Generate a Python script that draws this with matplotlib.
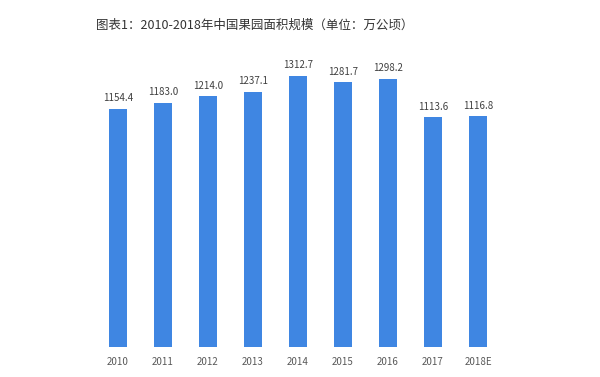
import numpy as np
import matplotlib
matplotlib.use("Agg")
import matplotlib.pyplot as plt

plt.rcParams['font.family'] = ['Noto Sans CJK SC', 'DejaVu Sans']

# ── Dados ────────────────────────────────────────────────────────────────
years = ["2010", "2011", "2012", "2013", "2014", "2015", "2016", "2017", "2018E"]
area = [1154.4, 1183.0, 1214.0, 1237.1, 1312.7, 1281.7, 1298.2, 1113.6, 1116.8]
title = "图表1：2010-2018年中国果园面积规模（单位：万公顷）"

fig = plt.figure(figsize=(6.0, 3.77), dpi=100)
ax = fig.add_axes([95.5 / 600, 30 / 377, 405 / 600, 289 / 377])

x = np.arange(len(years))
bars = ax.bar(x, area, width=0.4, color="#3f86e2")
for b, v in zip(bars, area):
    ax.annotate(f"{v:.1f}", (b.get_x() + b.get_width() / 2, v),
                xytext=(0, 4), textcoords="offset points",
                ha="center", va="bottom", fontsize=7, color="#404040")

ax.set_xlim(-0.5, len(years) - 0.5)
ax.set_ylim(0, 1400)
ax.set_xticks(x)
ax.set_xticklabels(years, fontsize=7, color="#595959")
ax.tick_params(axis="x", length=0, pad=7)
ax.set_yticks([])
for s in ax.spines.values():
    s.set_visible(False)

fig.text(255 / 600, 1 - 25 / 377, title, ha="center", va="center",
         fontsize=9, color="#333333")

fig.savefig("out.png", dpi=100)
